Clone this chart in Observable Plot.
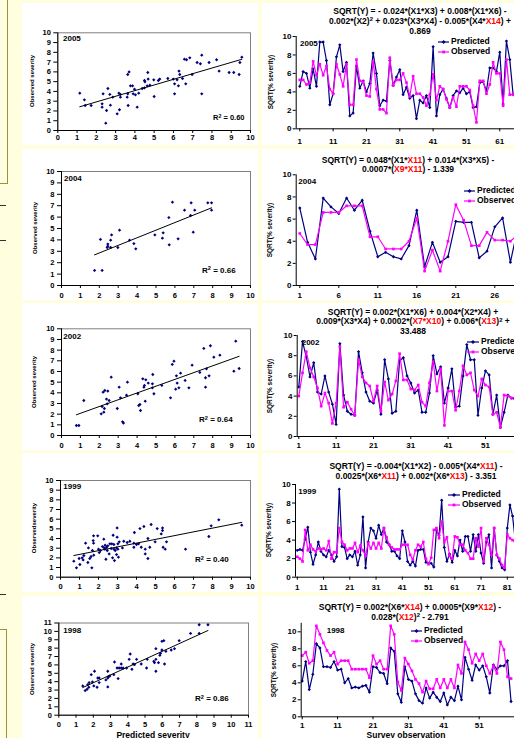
<!DOCTYPE html>
<html>
<head>
<meta charset="utf-8">
<script src="https://cdn.jsdelivr.net/npm/d3@7"></script>
<script src="https://cdn.jsdelivr.net/npm/@observablehq/plot@0.6"></script>
<style>
html, body { margin:0; padding:0; width:514px; height:738px; overflow:hidden; background:#ffffe0; }
#root { position:relative; width:514px; height:738px; overflow:hidden; font-family:"Liberation Sans", Arial, Helvetica, sans-serif; font-weight:bold; color:#000; }
#root div { position:absolute; white-space:nowrap; }
.panel { background:#ffffff; }
.red { color:#ff0000; }
sup { font-size:0.7em; line-height:0; vertical-align:baseline; position:relative; top:-0.45em; }
</style>
</head>
<body>
<div id="root"></div>
<script>
// ================= DATA =================
// 2005
const scatterX2005 = [1.14,1.38,1.42,1.73,2.3,2.3,2.35,2.53,2.49,2.6,2.7,2.73,2.85,3.08,3.17,3.2,3.25,3.25,3.6,3.63,3.65,3.63,3.7,3.77,3.88,3.91,3.98,4.03,4.12,4.2,4.38,4.5,4.5,4.52,4.64,4.69,4.67,4.78,4.98,5.0,5.22,5.29,5.71,5.99,6.06,6.06,6.19,6.26,6.29,6.33,6.47,6.57,6.68,6.64,6.85,6.97,7.23,7.4,7.47,7.47,7.85,8.24,8.37,8.89,9.13,9.41,9.45,9.55];
const scatterY2005 = [3.82,3.14,2.56,2.56,2.73,2.39,3.75,2.05,0.75,4.3,3.69,2.59,3.41,1.71,3.82,2.12,3.69,3.41,3.41,3.75,2.56,5.73,6.0,4.57,4.57,3.75,4.23,3.65,2.39,3.82,4.3,4.37,5.12,4.98,4.57,5.26,5.94,4.64,5.19,3.48,5.12,5.26,5.32,5.26,4.78,3.75,5.19,4.57,6.08,5.73,5.32,7.3,7.24,4.78,7.44,5.73,6.96,6.83,7.71,3.75,6.96,7.24,6.08,5.94,5.94,5.73,6.96,7.51];
const linePred2005 = [4.6,6.2,6.0,4.4,6.5,4.6,9.4,9.4,7.4,2.6,3.8,7.8,9.1,6.2,7.2,1.4,1.7,6.8,4.4,5.2,4.0,4.9,8.2,6.0,2.5,3.1,3.0,7.4,4.7,5.6,6.4,3.7,4.5,3.3,3.6,1.1,3.1,2.8,3.6,2.3,8.9,1.4,3.7,4.3,3.3,2.3,3.6,4.1,3.9,4.4,3.8,4.0,2.3,2.4,5.0,5.1,4.1,6.6,6.6,6.2,8.3,2.7,9.5,7.5,3.7,3.3];
const lineObs2005 = [5.3,5.3,4.8,5.0,7.3,5.8,7.0,5.8,6.8,4.3,3.8,7.0,5.9,4.6,7.0,2.6,2.6,7.5,5.2,5.1,3.6,3.5,7.3,4.3,2.1,2.1,1.7,7.7,4.7,5.3,5.3,6.0,5.0,3.5,5.7,3.8,3.8,3.4,2.5,3.7,5.9,3.1,4.6,4.3,3.2,2.3,3.4,2.4,4.6,4.6,4.6,4.2,2.5,0.7,5.2,5.2,3.8,4.8,7.2,6.0,6.0,2.5,7.5,3.7,3.7,3.5];
const lineTicks2005 = [1,11,21,31,41,51,61];
const r2_2005 = "0.60";
const eq2005 = [
  'SQRT(Y) = - 0.024*(X1*X3) + 0.008*(X1*X6) -',
  '0.002*(X2)<sup>2</sup> + 0.023*(X3*X4) - 0.005*(X4*<span class="red">X14</span>) +',
  '0.869'
];

// 2004
const scatterX2004 = [1.75,2.15,2.06,2.45,2.45,2.42,2.6,2.65,2.6,2.98,3.07,3.6,3.83,3.93,4.94,5.34,5.38,5.68,5.7,5.87,6.17,6.51,6.86,6.83,6.97,7.05,7.74,7.94,7.94];
const scatterY2004 = [1.32,1.32,4.04,3.63,3.45,3.33,3.98,4.44,3.33,3.33,4.85,3.98,3.68,3.22,4.44,4.15,4.62,5.96,3.57,7.31,4.09,6.61,7.25,6.14,4.68,6.61,7.25,7.25,6.61];
const linePred2004 = [7.0,3.9,2.4,7.9,7.1,6.5,7.9,6.8,7.7,4.9,2.6,3.0,2.6,2.4,3.6,6.8,1.7,3.9,2.1,2.6,5.8,5.7,5.7,2.5,3.1,5.3,6.1,2.1,5.4];
const lineObs2004 = [4.7,3.7,3.7,6.6,6.6,6.6,7.2,7.2,7.2,4.4,4.4,3.3,3.3,3.3,4.0,6.1,1.3,3.2,1.3,4.0,7.3,5.9,3.6,3.6,4.8,4.1,4.1,4.0,4.6];
const lineTicks2004 = [1,6,11,16,21,26];
const r2_2004 = "0.66";
const eq2004 = [
  'SQRT(Y) = 0.048*(X1*<span class="red">X11</span>) + 0.014*(X3*X5) -',
  '0.0007*(<span class="red">X9*X11</span>) - 1.339'
];

// 2002
const scatterX2002 = [0.79,0.92,1.18,2.1,2.15,2.2,2.24,2.27,2.29,2.38,2.42,2.45,2.52,2.63,2.95,3.05,3.12,3.23,3.28,3.44,3.49,4.04,4.09,4.15,4.18,4.3,4.36,4.39,4.43,4.46,4.59,4.81,4.81,4.83,4.89,5.31,5.77,5.86,5.95,6.04,6.08,6.12,6.21,6.3,6.54,6.74,6.91,7.32,7.53,7.62,7.62,7.67,7.81,7.88,8.06,8.38,9.12,9.22,9.4];
const scatterY2002 = [0.94,0.94,3.28,2.03,2.72,4.06,2.19,2.53,4.22,3.41,2.97,4.16,3.28,5.47,2.53,4.53,3.53,1.28,1.16,3.78,5.0,3.91,2.81,2.91,2.34,5.31,4.53,4.69,3.22,5.22,4.91,4.47,4.84,5.72,3.91,4.69,3.53,6.66,6.97,4.34,5.59,4.91,4.47,5.84,5.16,4.47,6.59,5.91,8.16,4.53,5.41,6.25,5.59,8.41,7.34,7.53,6.03,8.84,6.28];
const linePred2002 = [4.9,9.4,7.9,5.9,7.3,4.4,4.2,6.0,4.4,3.2,1.2,9.2,4.1,2.5,2.2,2.1,8.4,6.3,4.4,3.5,3.3,4.6,2.2,7.6,5.7,2.3,2.5,7.5,7.8,6.0,5.3,4.3,4.6,2.4,2.4,4.3,8.0,6.2,6.9,3.3,4.8,6.7,2.9,3.0,6.0,9.1,7.6,7.6,2.1,4.8,6.5,6.1,2.2,4.1,0.9,2.4,4.1,3.8,3.7];
const lineObs2002 = [4.0,6.3,8.4,6.8,5.9,4.8,3.0,4.3,3.3,1.3,3.3,8.9,2.9,3.4,2.7,2.1,7.6,5.9,5.3,5.0,3.5,5.0,2.5,5.4,3.6,4.2,5.5,8.2,5.6,5.6,4.7,4.6,5.1,3.4,3.0,5.3,7.4,4.5,6.7,1.1,4.5,4.5,2.6,4.5,7.0,6.1,6.3,4.6,4.0,5.7,5.1,4.9,2.2,2.4,0.9,4.1,4.0,3.8,3.9];
const lineTicks2002 = [1,11,21,31,41,51];
const r2_2002 = "0.64";
const eq2002 = [
  'SQRT(Y) = 0.002*(X1*X6) + 0.004*(X2*X4) +',
  '0.009*(X3*X4) + 0.0002*(<span class="red">X7*X10</span>) + 0.006*(<span class="red">X13</span>)<sup>2</sup> +',
  '33.488'
];

// 1999
const scatterX1999 = [0.7,0.84,0.98,1.02,1.14,1.19,1.23,1.32,1.44,1.47,1.54,1.61,1.65,1.68,1.72,1.74,1.74,1.75,1.96,2.0,2.04,2.1,2.21,2.28,2.3,2.33,2.35,2.39,2.42,2.46,2.49,2.56,2.6,2.67,2.7,2.74,2.77,2.81,2.81,2.84,2.88,2.95,2.95,2.98,2.98,3.02,3.02,3.05,3.09,3.26,3.33,3.51,3.65,3.86,3.86,3.89,4.0,4.11,4.18,4.25,4.39,4.46,4.46,4.6,4.6,4.7,4.77,4.98,5.09,5.3,5.37,5.37,5.4,5.51,5.58,6.58,7.81,7.93,8.33,9.54];
const scatterY1999 = [1.66,0.97,1.93,1.31,2.0,1.79,2.24,3.52,1.52,3.03,1.93,2.14,0.97,2.76,3.79,3.52,4.28,2.28,4.28,2.9,2.55,2.76,3.17,3.93,3.03,2.9,3.31,1.86,3.1,2.76,3.24,2.41,3.45,2.97,3.45,2.0,4.34,2.9,3.38,1.72,2.76,3.03,2.34,5.1,4.14,3.45,2.9,2.07,3.66,3.03,3.72,3.59,3.72,3.1,3.52,4.62,3.38,3.45,5.03,3.1,5.24,2.9,2.41,4.0,1.93,3.1,5.45,3.66,5.03,4.48,4.83,5.1,3.1,2.9,3.66,2.9,4.21,5.31,5.93,5.38];
const linePred1999 = [2.9,3.0,2.9,4.1,5.4,2.7,1.4,2.4,3.8,2.8,2.4,2.2,2.9,2.4,1.7,2.2,9.5,3.3,3.2,2.0,2.4,2.2,2.8,1.3,2.4,6.5,1.0,3.8,5.3,5.0,4.2,5.6,4.6,5.3,3.8,3.5,2.8,2.8,2.3,2.0,5.0,3.8,1.7,1.3,1.7,1.2,2.9,3.0,3.0,1.6,1.5,1.5,1.1,5.1,4.5,8.3,3.2,1.7,2.5,1.6,2.9,2.3,4.0,2.8,4.4,4.4,2.8,4.6,2.8,4.6,2.6,1.5,3.8,4.6,1.0,5.3,2.4,1.7,1.0,0.8,5.3,7.8,6.6,4.0];
const lineObs1999 = [2.2,2.0,1.7,5.1,2.9,3.5,3.0,2.8,3.1,3.0,3.1,2.9,3.9,2.0,2.7,2.7,5.3,3.8,3.5,2.9,3.1,3.1,3.7,2.7,3.4,2.9,2.3,3.7,3.1,3.7,3.1,3.7,3.1,5.3,4.3,3.5,3.2,3.0,3.0,3.0,3.5,3.5,3.5,2.4,1.9,2.9,3.5,3.3,3.8,2.0,1.4,2.1,5.1,5.3,4.2,6.0,3.8,4.3,2.3,2.0,4.4,4.3,3.5,3.5,2.9,2.6,2.0,2.0,4.2,3.3,5.3,1.7,4.2,3.5,2.4,5.3,2.4,2.0,1.3,1.0,4.6,4.2,4.0,3.8];
const lineTicks1999 = [1,11,21,31,41,51,61,71,81];
const r2_1999 = "0.40";
const eq1999 = [
  'SQRT(Y) = -0.004*(X1*X2) - 0.005*(X4*<span class="red">X11</span>) -',
  '0.0025*(X6*<span class="red">X11</span>) + 0.002*(X6*<span class="red">X13</span>) - 3.351'
];

// 1998
const scatterX1998 = [1.39,1.53,1.64,1.68,1.74,1.76,1.88,1.95,2.07,2.03,2.22,2.26,2.34,2.34,2.73,2.84,2.88,2.84,2.84,2.96,3.19,3.23,3.38,3.44,3.5,3.62,3.62,3.73,3.93,4.08,4.14,4.24,4.31,4.39,4.51,4.78,5.09,5.13,5.51,5.55,5.63,5.63,5.63,5.78,5.86,5.9,5.98,5.98,6.09,6.13,6.21,6.52,6.71,6.98,7.64,8.14,8.14,8.65];
const scatterY1998 = [3.49,2.94,3.1,3.65,3.33,3.89,4.84,3.97,5.24,3.49,3.33,4.44,4.44,3.89,4.21,4.44,4.6,5.24,3.37,4.68,4.84,6.35,5.63,4.37,5.63,6.11,5.63,5.63,5.63,6.67,7.3,5.48,6.11,6.03,6.67,6.11,5.63,6.67,6.43,6.27,5.24,6.67,7.94,6.27,7.14,7.38,7.78,8.81,8.89,6.11,7.62,7.78,7.94,8.89,9.76,9.76,10.79,10.79];
const linePred1998 = [4.2,6.5,3.2,5.0,8.6,8.1,5.9,5.9,5.8,6.5,5.5,5.6,4.0,4.5,3.4,3.5,3.4,3.6,3.7,2.9,5.9,5.8,5.2,5.1,3.9,8.1,7.7,2.7,1.7,5.9,4.4,4.2,2.7,1.9,1.6,3.4,2.2,2.9,2.3,1.8,2.8,1.4,2.3,1.9,3.6,2.0,7.0,5.6,4.3,6.1,5.5,6.0,4.7,2.8,6.1,5.6,6.0,6.0,6.6,1.8];
const lineObs1998 = [7.2,7.6,6.3,6.6,10.7,9.7,8.7,7.8,7.2,7.6,6.2,6.6,6.6,6.6,5.6,5.6,5.6,5.6,5.6,4.6,7.2,6.2,6.6,5.6,5.6,10.7,9.7,4.1,3.1,6.9,6.2,5.4,4.4,3.9,2.9,4.2,3.3,3.3,4.4,3.4,4.4,3.4,4.4,3.4,6.1,5.1,8.8,7.9,6.3,7.4,6.6,7.4,6.0,5.1,6.0,5.1,8.8,7.9,4.7,4.5];
const lineTicks1998 = [1,11,21,31,41,51];
const r2_1998 = "0.86";
const eq1998 = [
  'SQRT(Y) = 0.002*(X6*<span class="red">X14</span>) + 0.0005*(X9*<span class="red">X12</span>) -',
  '0.028*(<span class="red">X12</span>)<sup>2</sup> - 2.791'
];

const years = ["2005","2004","2002","1999","1998"];
const seriesNames = ["Predicted","Observed"];
const scatterYLabels = ["Observed severity","Observed severity","Observed severity","Observedseverity","Observed severity"];
const lineYLabel = "SQRT(% severity)";
const xTitleLeft = "Predicted severity";
const xTitleRight = "Survey observation";

// ================= LAYOUT =================
const FONT = '"Liberation Sans", Arial, Helvetica, sans-serif';
const NAVY = "#000080", MAGENTA = "#ff00ff";
const root = document.getElementById("root");
const colLeft = [22, 258], colRight = [262, 514];
const rowSpans = [[3,145],[149,300],[303,450],[453,592],[596,738]];

function addDiv(html, style) {
  const d = document.createElement("div");
  d.innerHTML = html;
  Object.assign(d.style, style);
  root.appendChild(d);
  return d;
}
// place text so that its cap-height centre sits at cy
function addText(html, x, cy, fs, center, lh) {
  const L = lh || fs;
  const top = cy - ((L - 1.117 * fs) / 2 + 0.547 * fs);
  return addDiv(html, {
    left: x + "px", top: top + "px", fontSize: fs + "px", lineHeight: L + "px",
    transform: center ? "translateX(-50%)" : "none"
  });
}
function addRotated(text, cx, cy, fs) {
  const d = addDiv("", {left: cx + "px", top: cy + "px", fontSize: fs + "px", lineHeight: fs + "px",
    transform: "translate(-50%,-50%) rotate(-90deg)"});
  d.textContent = text;
}

// left-strip decorations
addDiv("", {left:"-2px", top:"-2px", width:"8px", height:"184px", border:"1px solid #9a9040"});
addDiv("", {left:"0px", top:"205px", width:"6px", height:"1px", background:"#333"});
addDiv("", {left:"0px", top:"240px", width:"6px", height:"1px", background:"#333"});
addDiv("", {left:"0px", top:"594px", width:"6px", height:"1px", background:"#333"});
addDiv("", {left:"-2px", top:"629px", width:"7px", height:"120px", border:"1px solid #9a9040"});

// panels
rowSpans.forEach(([t, b]) => {
  addDiv("", {left: colLeft[0] + "px", top: t + "px", width: (colLeft[1] - colLeft[0]) + "px", height: (b - t) + "px"}).className = "panel";
  addDiv("", {left: colRight[0] + "px", top: t + "px", width: (colRight[1] - colRight[0]) + "px", height: (b - t) + "px"}).className = "panel";
});

const baseStyle = (fs) => ({background: "transparent", color: "black", fontFamily: FONT, fontSize: fs + "px", fontWeight: "bold", overflow: "visible"});

function scatterChart(c, xs, ys) {
  const [py, pb] = rowSpans[c.row];
  const px = colLeft[0], pw = colLeft[1] - colLeft[0], ph = pb - py;
  const data = xs.map((x, i) => ({x, y: ys[i]}));
  const ticks = d3.range(0, c.max + 1);
  const svg = Plot.plot({
    width: pw, height: ph,
    marginLeft: c.L - px, marginRight: px + pw - c.R, marginTop: c.T - py, marginBottom: py + ph - c.B,
    style: baseStyle(7.5),
    x: {domain: [0, c.max], label: null},
    y: {domain: [0, c.max], label: null},
    marks: [
      Plot.frame({stroke: "#808080"}),
      Plot.axisY({ticks, tickSize: 4, tickPadding: 3, label: null, tickFormat: d => String(d)}),
      Plot.axisX({ticks, tickSize: 3, tickPadding: c.xPad, label: null, tickFormat: d => String(d)}),
      Plot.ruleX([0], {stroke: "black"}),
      Plot.ruleY([0], {stroke: "black"}),
      Plot.dot(data, {x: "x", y: "y", symbol: "diamond2", r: 1.5, fill: NAVY, stroke: "none"}),
      Plot.linearRegressionY(data, {x: "x", y: "y", ci: 0, stroke: "black", strokeWidth: 1})
    ]
  });
  Object.assign(svg.style, {position: "absolute", left: px + "px", top: py + "px"});
  root.appendChild(svg);
  addText(c.year, c.yearX, c.yearY, 8);
  addText("R<sup>2</sup> = " + c.r2, c.r2X, c.r2Y, c.r2Fs || 8);
  addRotated(c.ylab, c.ylabX, (c.T + c.B) / 2, 6);
}

function lineChart(c, pred, obs, ticks, eq) {
  const [py, pb] = rowSpans[c.row];
  const px = colRight[0], ph = pb - py;
  const n = pred.length;
  const d0 = 1 - (c.x1 - c.L) / c.sp;
  const d1 = n + 1;
  const R = c.x1 + n * c.sp;
  const width = Math.ceil(R - px + 2);
  const predData = pred.map((v, i) => ({i: i + 1, v}));
  const obsData = obs.map((v, i) => ({i: i + 1, v}));
  const svg = Plot.plot({
    width, height: ph,
    marginLeft: c.L - px, marginRight: width - (R - px), marginTop: c.T - py, marginBottom: py + ph - c.B,
    style: baseStyle(8),
    x: {type: "linear", domain: [d0, d1], label: null},
    y: {domain: [0, c.ymax], label: null},
    marks: [
      Plot.axisY({ticks: [0,2,4,6,8,10], tickSize: 3, tickPadding: 1.7, label: null, tickFormat: d => String(d)}),
      Plot.axisX({ticks, tickSize: 3, tickPadding: c.xPad, label: null, tickFormat: d => String(d)}),
      Plot.line(predData, {x: "i", y: "v", stroke: NAVY, strokeWidth: 1.2}),
      Plot.dot(predData, {x: "i", y: "v", symbol: "diamond2", r: 1.5, fill: NAVY, stroke: "none"}),
      Plot.line(obsData, {x: "i", y: "v", stroke: MAGENTA, strokeWidth: 1.2}),
      Plot.dot(obsData, {x: "i", y: "v", symbol: "square", r: 1.5, fill: MAGENTA, stroke: "none"}),
      Plot.ruleX([d0], {stroke: "black"}),
      Plot.ruleY([0], {stroke: "black"})
    ]
  });
  Object.assign(svg.style, {position: "absolute", left: px + "px", top: py + "px"});
  root.appendChild(svg);
  addText(c.year, c.yearX, c.yearY, 8);
  addRotated(lineYLabel, c.ylabX, (c.T + c.B) / 2, 6.5);
  eq.forEach((line, k) => addText(line, c.eqX, c.eqY[k], 8.5, true, 9.6));
  // legend
  [[NAVY, seriesNames[0], "d", c.legY[0]], [MAGENTA, seriesNames[1], "s", c.legY[1]]].forEach(([col, name, s, cy]) => {
    const w = c.legT - c.legX - 2, m = w / 2;
    const marker = s === "s"
      ? `<rect x="${m - 1.4}" y="1.6" width="2.8" height="2.8" fill="${col}"/>`
      : `<path d="M${m},1 L${m + 2},3 L${m},5 L${m - 2},3Z" fill="${col}"/>`;
    addDiv(`<svg width="${w}" height="6" style="display:block"><line x1="0" y1="3" x2="${w}" y2="3" stroke="${col}" stroke-width="1.2"/>${marker}</svg>`,
      {left: c.legX + "px", top: (cy - 3) + "px", lineHeight: "0"});
    addText(name, c.legT, cy, 8.5, false, 9.6);
  });
}

const leftCfg = [
  {row:0, L:57.3, R:250, T:32.3, B:130, max:10, xPad:1.6, yearX:63, yearY:39, r2X:213, r2Y:118, r2Fs:7.5, ylabX:32},
  {row:1, L:61, R:250, T:171, B:285, max:10, xPad:4.3, yearX:64, yearY:178.7, r2X:202, r2Y:270.5, ylabX:34.5},
  {row:2, L:61, R:250, T:328.3, B:435, max:10, xPad:4.3, yearX:63.3, yearY:336.5, r2X:199, r2Y:420, ylabX:33.5},
  {row:3, L:60, R:250, T:480, B:576.7, max:10, xPad:3.6, yearX:63.3, yearY:487, r2X:195, r2Y:560, ylabX:33.5},
  {row:4, L:58.3, R:248, T:622.5, B:714.7, max:11, xPad:3.6, yearX:63.3, yearY:631, r2X:195, r2Y:699, ylabX:31.5}
];
const rightCfg = [
  {row:0, L:295.7, x1:299.3, sp:3.333, T:36, B:128.3, ymax:10, xPad:6.1, yearX:300, yearY:44, legX:437.7, legT:451, legY:[42,51.8], eqX:420, eqY:[12.2,21.8,31.4], ylabX:270.5},
  {row:1, L:295.7, x1:299.3, sp:7.8, T:174.3, B:285, ymax:10, xPad:3.4, yearX:298.3, yearY:182, legX:464, legT:477, legY:[190.7,200.5], eqX:408, eqY:[160.6,170.2], ylabX:270},
  {row:2, L:296.7, x1:298.3, sp:3.733, T:335, B:436, ymax:10, xPad:3.1, yearX:301.7, yearY:343, legX:467, legT:481, legY:[341.7,351.5], eqX:413, eqY:[312.6,322.2,331.8], ylabX:270},
  {row:3, L:295, x1:296.8, sp:2.625, T:484, B:576.7, ymax:10, xPad:4.1, yearX:298.3, yearY:492, legX:448, legT:462, legY:[494.7,504.5], eqX:416, eqY:[467.1,476.7], ylabX:269},
  {row:4, L:300.7, x1:301.7, sp:3.54, T:622.8, B:716.3, ymax:11, xPad:2.5, yearX:326.7, yearY:631, legX:411, legT:424, legY:[630.7,640.5], eqX:410, eqY:[607.3,617.3], ylabX:274}
];

const scatterXs = [scatterX2005, scatterX2004, scatterX2002, scatterX1999, scatterX1998];
const scatterYs = [scatterY2005, scatterY2004, scatterY2002, scatterY1999, scatterY1998];
const linePreds = [linePred2005, linePred2004, linePred2002, linePred1999, linePred1998];
const lineObss = [lineObs2005, lineObs2004, lineObs2002, lineObs1999, lineObs1998];
const lineTicks = [lineTicks2005, lineTicks2004, lineTicks2002, lineTicks1999, lineTicks1998];
const r2s = [r2_2005, r2_2004, r2_2002, r2_1999, r2_1998];
const eqs = [eq2005, eq2004, eq2002, eq1999, eq1998];

years.forEach((yr, k) => {
  scatterChart({...leftCfg[k], year: yr, r2: r2s[k], ylab: scatterYLabels[k]}, scatterXs[k], scatterYs[k]);
  lineChart({...rightCfg[k], year: yr}, linePreds[k], lineObss[k], lineTicks[k], eqs[k]);
});

addText(xTitleLeft, 153, 735, 8.5, true);
addText(xTitleRight, 406, 735, 8.5, true);
</script>
</body>
</html>
